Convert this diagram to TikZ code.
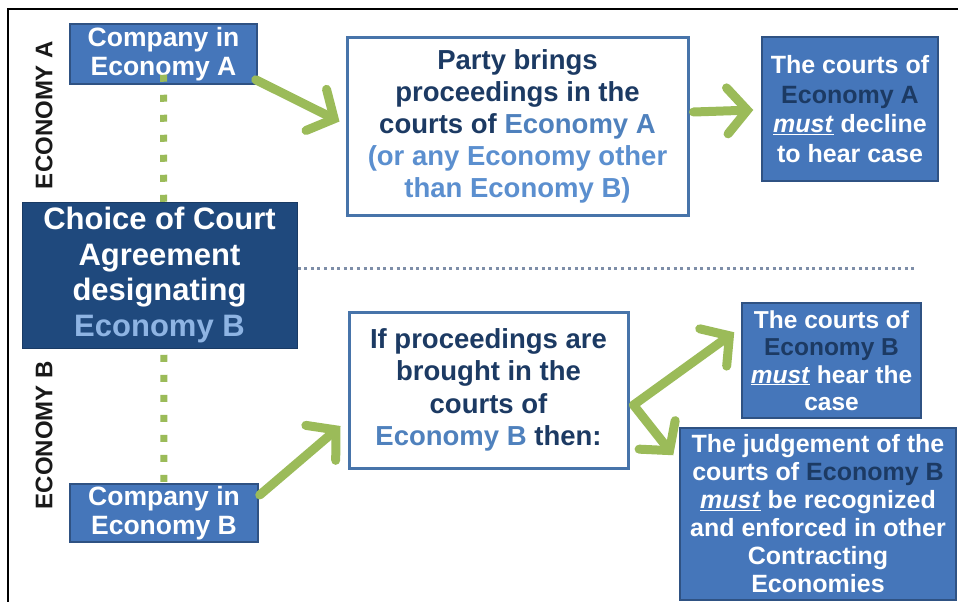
\documentclass[tikz,border=0pt]{standalone}
\usepackage{fontspec}
\setmainfont{Liberation Sans}
\usetikzlibrary{arrows.meta,calc}
\definecolor{midblue}{HTML}{4576BA}
\definecolor{midborder}{HTML}{2F5283}
\definecolor{navy}{HTML}{1F497D}
\definecolor{lightblue}{HTML}{8EB4E3}
\definecolor{darktext}{HTML}{1C3A63}
\definecolor{ecoblue}{HTML}{4F81BD}
\definecolor{parblue}{HTML}{5B8FCF}
\definecolor{leaf}{HTML}{9BBB59}
\definecolor{dotgray}{HTML}{7E8EA8}
\tikzset{
  x=1pt,y=-1pt,
  bluebox/.style={draw=midborder,line width=1.5pt,fill=midblue,text=white,font=\bfseries,align=center,inner sep=0pt},
  whitebox/.style={draw=ecoblue!90!black,line width=3pt,fill=white,text=darktext,font=\bfseries,align=center,inner sep=0pt},
  navybox/.style={draw=navy!80!black,line width=1pt,fill=navy,text=white,font=\bfseries,align=center,inner sep=0pt},
  garrow/.style={draw=leaf,line width=9pt,line cap=round,-{Straight Barb[length=20pt,width=46pt,line cap=round]}},
  side/.style={rotate=90,font=\bfseries\fontsize{24}{26}\selectfont,text=black!90}
}
\begin{document}
\begin{tikzpicture}
\useasboundingbox (0,0) rectangle (958,602);
\fill[white] (0,0) rectangle (958,602);
\draw[black,line width=2pt] (8,602) -- (8,9) -- (958,9);

% side labels
\node[side] (ecoA) at (44,115) {ECONOMY A};
\node[side] (ecoB) at (44,435) {ECONOMY B};

% boxes
\node[bluebox,minimum width=187pt,minimum height=60pt,font=\bfseries\fontsize{26.5}{29}\selectfont] (compA) at (163.5,54) {Company in\\Economy A};
\node[bluebox,minimum width=188pt,minimum height=58pt,font=\bfseries\fontsize{26.5}{29}\selectfont] (compB) at (164,513) {Company in\\Economy B};

% green dotted vertical
\draw[leaf,line width=7pt,dash pattern=on 7pt off 13pt] ([yshift=10]compA.south) -- ([yshift=-10]compB.north);

\node[navybox,minimum width=275pt,minimum height=146pt,font=\bfseries\fontsize{31}{35.5}\selectfont] (choice) at (159.5,275) {Choice of Court\\Agreement\\designating\\\textcolor{lightblue}{Economy B}};

\node[whitebox,minimum width=341pt,minimum height=177pt,font=\bfseries\fontsize{27.5}{32}\selectfont] (party) at (517.5,126.5)
 {Party brings\\proceedings in the\\courts of \textcolor{ecoblue}{Economy A}\\\textcolor{parblue}{(or any Economy other}\\\textcolor{parblue}{than Economy B)}};

\node[bluebox,minimum width=176pt,minimum height=144pt,font=\bfseries\fontsize{25}{29.5}\selectfont] (decline) at (850,109)
 {The courts of\\\textcolor{darktext}{Economy A}\\\underline{\textit{must}} decline\\to hear case};

\coordinate (dotend) at (915,268);
\draw[dotgray,line width=3pt,dash pattern=on 3pt off 3.6pt] (choice.east |- dotend) -- (dotend);

\node[whitebox,minimum width=279pt,minimum height=156pt,font=\bfseries\fontsize{27.5}{32.5}\selectfont] (ifb) at (488.5,390)
 {If proceedings are\\brought in the\\courts of\\\textcolor{ecoblue}{Economy B} then:};

\node[bluebox,minimum width=179pt,minimum height=115pt,font=\bfseries\fontsize{24.5}{27.5}\selectfont] (hear) at (831.5,360.5)
 {The courts of\\\textcolor{darktext}{Economy B}\\\underline{\textit{must}} hear the\\case};

\node[bluebox,minimum width=276pt,minimum height=172pt,font=\bfseries\fontsize{25}{28}\selectfont] (judge) at (818,514)
 {The judgement of the\\courts of \textcolor{darktext}{Economy B}\\\underline{\textit{must}} be recognized\\and enforced in other\\Contracting\\Economies};

% arrows
\draw[garrow] ([shift={(-2,-5)}]compA.south east) -- ([shift={(-6,-5)}]party.west);
\draw[garrow] (party.east |- decline.west) ++(4,3) -- ([shift={(-8,1)}]decline.west);
\draw[garrow] ([shift={(1,-18)}]compB.east) -- ([shift={(-7,36)}]ifb.west);
\draw[garrow] ([shift={(4,15)}]ifb.east) -- ([shift={(-7,30)}]hear.north west);
\draw[garrow] ([shift={(4,15)}]ifb.east) -- ([shift={(-6,28)}]judge.north west);
\end{tikzpicture}
\end{document}
